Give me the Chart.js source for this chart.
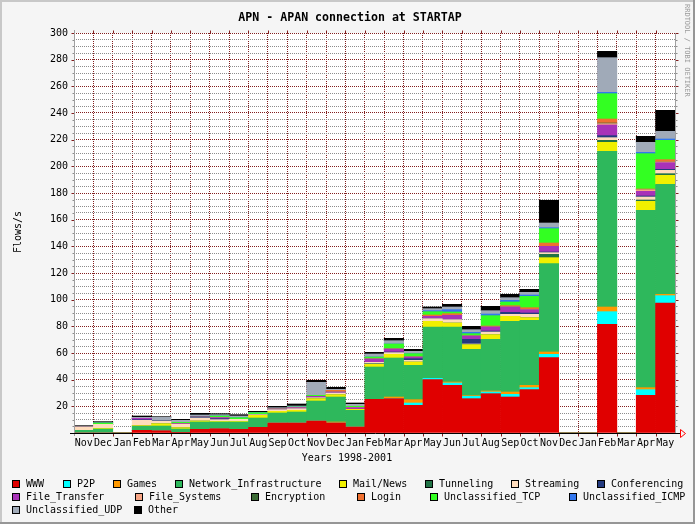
<!DOCTYPE html>
<html><head><meta charset="utf-8">
<script src="https://cdn.jsdelivr.net/npm/chart.js@4.4.1/dist/chart.umd.min.js"></script>
<style>html,body{margin:0;padding:0;background:#f5f5f5;}canvas{display:block;}</style>
</head><body>
<canvas id="c" width="695" height="524"></canvas>
<script>
// ---- data (flows/s, monthly, Nov 1998 .. May 2001) ----
const months = ['Nov','Dec','Jan','Feb','Mar','Apr','May','Jun','Jul','Aug','Sep','Oct',
                'Nov','Dec','Jan','Feb','Mar','Apr','May','Jun','Jul','Aug','Sep','Oct',
                'Nov','Dec','Jan','Feb','Mar','Apr','May'];
const yTicks = [20,40,60,80,100,120,140,160,180,200,220,240,260,280,300];

const www      = [0,0,0,2,1.75,0.5,2.75,3.25,2.75,4.25,7.5,7.5,9,7.5,4.5,25.25,25.75,20.75,40,35.75,25.75,29.5,27,32.5,56.5,0,0,81.5,0,28.25,97.5];
const p2p      = [0,0,0,0,0,0,0,0,0,0,0,0,0,0,0,0,0,1.75,1,1.75,1.75,1.25,2,1.5,2.5,0,0,9.5,0,4.25,5.5];
const games    = [0,0,0,0,0,0,0,0,0,0,0,0,0,0.75,0,0,1.25,2.5,0,0.75,0.5,0.75,1.75,1.75,1.75,0,0,3.5,0,1.5,1];
const netInfra = [2,3,0,3,3.5,2.5,5.5,5,5.5,7,7.5,8.25,15,18.75,12.5,24.25,29.25,25.75,38.5,41.25,34.75,38.75,53,48.75,66.25,0,0,116.75,0,133,82.5];
const mailNews = [0,0.5,0,0.5,1.75,1,0.75,0.5,0.5,2,1.25,1.25,1.75,1.75,0.75,2,2.75,2.5,4.25,3,3.5,3.5,3.75,2,4.5,0,0,6.75,0,6.75,6.75];
const tunneling= [0,0,0,0,0,0,0,0,0,0,0,0,0,0,0,0.5,0,0,0,0,0,0,0,0,2.5,0,0,1.5,0,1,1.25];
const streaming= [2.5,3,0,4,2,2.5,2.25,1.25,1.5,0.5,1.25,1.25,0.75,1.25,0,1,1.25,1.25,2,2.5,0.5,2,1.5,2.5,1.25,0,0,2,0,2.25,2.5];
const conferencing=[0,0,0,0.5,0.5,0,0.75,0.75,0,0,0,0,0,0,0,0,0.5,1.25,0,0,3.5,0.75,1.5,1,0.5,0,0,1.5,0,0.75,0.75];
const fileTransfer=[0,0,0,1,0,0.5,0,0.75,0,0,0.5,0.75,1,0.75,1.25,2.5,2.25,1.25,1.75,3.25,2.5,3,4,2.5,4.25,0,0,8,0,3.5,5];
const fileSystems =[0,0,0,0,0,0,0,0,0,0,0,0,0,0,0,0,0,0,0,0,0,0,0,0,0,0,0,1,0,1.25,0.5];
const encryption  =[0,0,0,0,0,0,0,0,0,0,0,0,0,0,0,0,0,0,0,0,0,0,0,0,0,0,0,0.5,0,0,0];
const login       =[0,0,0,0,0,0,0,0,0,0,0,0,0,1.25,0,0,0,0,1,1.25,0,0.75,1,1.5,2.5,0,0,3,0,0.5,1.75];
const unclTCP     =[0,1,0,0,0,1,0,1.25,1.25,1.5,0,0.5,0.75,0,1,1.5,3.75,2.5,2.5,1.25,1.75,7.75,2.75,8.5,10.75,0,0,19,0,26.5,14.5];
const unclICMP    =[0,0,0,0,0,0,0,0,0,0,0,0,0,0,0,0,0,0,0.75,1.75,1,1.25,1.25,1,0.75,0,0,1,0,1,1];
const unclUDP     =[0,0.25,0,0.75,2.25,1.5,1.5,1,1.25,0.25,1,0.75,9.75,0.75,1.5,2.25,2.5,1.75,1.5,2,2,2.5,2,2,3.5,0,0,26,0,7.5,5.75];
const other       =[1,0.75,0,1,0.5,0.75,1.25,0.75,1,0.75,1,1.5,1.5,1.5,1,1.25,1.75,1.5,1.25,2,2.5,3.25,2.5,2.25,17,0,0,4.75,0,4.5,15.75];

const seriesNames = ['WWW','P2P','Games','Network_Infrastructure','Mail/News','Tunneling','Streaming','Conferencing',
  'File_Transfer','File_Systems','Encryption','Login','Unclassified_TCP','Unclassified_ICMP','Unclassified_UDP','Other'];
const seriesData = [www,p2p,games,netInfra,mailNews,tunneling,streaming,conferencing,
  fileTransfer,fileSystems,encryption,login,unclTCP,unclICMP,unclUDP,other];
const seriesColors = ['#e00000','#00ffff','#ff9900','#2eb85c','#f0f000','#217346','#ffdcbc','#233a7f',
  '#a832b8','#f7a585','#3b6b35','#f07030','#33ff22','#3377ee','#a0aab8','#000000'];

// legend layout (square left x, row)
const legendLayout = [[12,0],[63,0],[113,0],[175,0],[339,0],[425,0],[511,0],[597,0],
  [12,1],[135,1],[251,1],[357,1],[430,1],[569,1],[12,2],[134,2]];
const legendRowY = [484,497,510];

const MONO = '"DejaVu Sans Mono", monospace';
const MGRID = '#821e1e', GRID = '#8c8c8c';

const rrdPlugin = {
  id: 'rrd',
  beforeDraw(chart) {
    const {ctx, chartArea: a} = chart;
    ctx.save();
    ctx.fillStyle = '#f5f5f5'; ctx.fillRect(0,0,695,524);
    ctx.fillStyle = '#c8c8c8'; ctx.fillRect(0,0,695,2); ctx.fillRect(0,0,2,524);
    ctx.fillStyle = '#969696'; ctx.fillRect(0,522,695,2); ctx.fillRect(693,0,2,524);
    ctx.fillStyle = '#ffffff'; ctx.fillRect(a.left, a.top, a.right - a.left, a.bottom - a.top);
    ctx.restore();
  },
  afterDraw(chart) {
    const {ctx, chartArea: a} = chart;
    const ys = chart.scales.y, xs = chart.scales.x;
    ctx.save();
    ctx.lineWidth = 1;
    const xl = Math.round(a.left) + 0.5, xr = Math.round(a.right) + 0.5;
    const yb = Math.round(a.bottom) + 0.5, yt = Math.round(a.top) + 0.5;
    // small tick marks on y (left/right) at every 5
    for (let v = 5; v <= 300; v += 5) {
      const y = Math.round(ys.getPixelForValue(v)) + 0.5;
      const major = v % 20 === 0;
      ctx.strokeStyle = major ? MGRID : GRID;
      const l = major ? 3 : 2;
      ctx.beginPath();
      ctx.moveTo(xl - l, y); ctx.lineTo(xl, y);
      ctx.moveTo(xr, y); ctx.lineTo(xr + l, y);
      ctx.stroke();
    }
    // small tick marks on x (top/bottom) at month boundaries
    ctx.strokeStyle = MGRID;
    for (let i = 1; i < months.length; i++) {
      const x = Math.round((xs.getPixelForTick(i - 1) + xs.getPixelForTick(i)) / 2) + 0.5;
      ctx.beginPath();
      ctx.moveTo(x, yt - 3); ctx.lineTo(x, yt);
      ctx.moveTo(x, yb); ctx.lineTo(x, yb + 3);
      ctx.stroke();
    }
    // axis lines
    ctx.strokeStyle = '#a0a0a0';
    ctx.beginPath();
    ctx.moveTo(xl, a.top - 3); ctx.lineTo(xl, a.bottom + 3);
    ctx.moveTo(xr, a.top); ctx.lineTo(xr, a.bottom);
    ctx.stroke();
    ctx.strokeStyle = '#000000';
    ctx.beginPath(); ctx.moveTo(a.left - 4, yb); ctx.lineTo(a.right + 6, yb); ctx.stroke();
    // arrow
    ctx.strokeStyle = '#ff0000';
    ctx.beginPath();
    ctx.moveTo(a.right + 5.5, yb - 4); ctx.lineTo(a.right + 10.5, yb); ctx.lineTo(a.right + 5.5, yb + 4); ctx.closePath();
    ctx.stroke();
    // title
    ctx.fillStyle = '#000';
    ctx.textAlign = 'center'; ctx.textBaseline = 'alphabetic';
    ctx.font = 'bold 11.6px ' + MONO;
    ctx.fillText('APN - APAN connection at STARTAP', 350, 21);
    // axis titles
    ctx.font = '10px ' + MONO;
    ctx.textBaseline = 'middle';
    ctx.fillText('Years 1998-2001', 347, 458.5);
    ctx.save();
    ctx.translate(18, 232); ctx.rotate(-Math.PI / 2);
    ctx.fillText('Flows/s', 0, 0);
    ctx.restore();
    // watermark
    ctx.save();
    ctx.fillStyle = '#9a9a9a';
    ctx.font = '7px ' + MONO;
    ctx.textAlign = 'left';
    ctx.translate(686.5, 4); ctx.rotate(Math.PI / 2);
    ctx.fillText('RRDTOOL / TOBI OETIKER', 0, 0);
    ctx.restore();
    // legend
    ctx.font = '10px ' + MONO;
    ctx.textAlign = 'left'; ctx.textBaseline = 'middle';
    chart.data.datasets.forEach((ds, i) => {
      const [x, row] = legendLayout[i];
      const y = legendRowY[row];
      ctx.fillStyle = ds.backgroundColor;
      ctx.fillRect(x, y - 4, 8, 8);
      ctx.strokeStyle = '#000';
      ctx.strokeRect(x + 0.5, y - 3.5, 7, 7);
      ctx.fillStyle = '#000';
      ctx.fillText(ds.label, x + 14, y + 0.5);
    });
    ctx.restore();
  }
};

new Chart(document.getElementById('c'), {
  type: 'bar',
  data: {
    labels: months,
    datasets: seriesNames.map((n, i) => ({
      label: n, data: seriesData[i], backgroundColor: seriesColors[i],
      borderWidth: 0, barPercentage: 1, categoryPercentage: 1
    }))
  },
  options: {
    responsive: false, animation: false, devicePixelRatio: 1,
    layout: { padding: { top: 33, right: 20, left: 0, bottom: 0 } },
    plugins: { legend: { display: false }, title: { display: false }, tooltip: { enabled: false } },
    scales: {
      x: {
        stacked: true, z: 1,
        grid: { color: MGRID, offset: true, drawTicks: false, lineWidth: 1 },
        border: { display: false, dash: [1, 1] },
        ticks: { color: '#000', font: { family: MONO, size: 10 }, padding: 4, maxRotation: 0, autoSkip: false },
        afterFit(s) { s.height = 91; }
      },
      y: {
        stacked: true, z: 1, min: 0, max: 300,
        grid: { color: c => (c.tick && c.tick.value % 20 === 0) ? MGRID : GRID, drawTicks: false, lineWidth: 1 },
        border: { display: false, dash: [1, 1] },
        ticks: {
          stepSize: 5, color: '#000', font: { family: MONO, size: 10 }, padding: 6, autoSkip: false,
          callback: v => yTicks.includes(v) ? String(v) : ''
        },
        afterFit(s) { s.width = 74; }
      }
    }
  },
  plugins: [rrdPlugin]
});
</script>
</body></html>
